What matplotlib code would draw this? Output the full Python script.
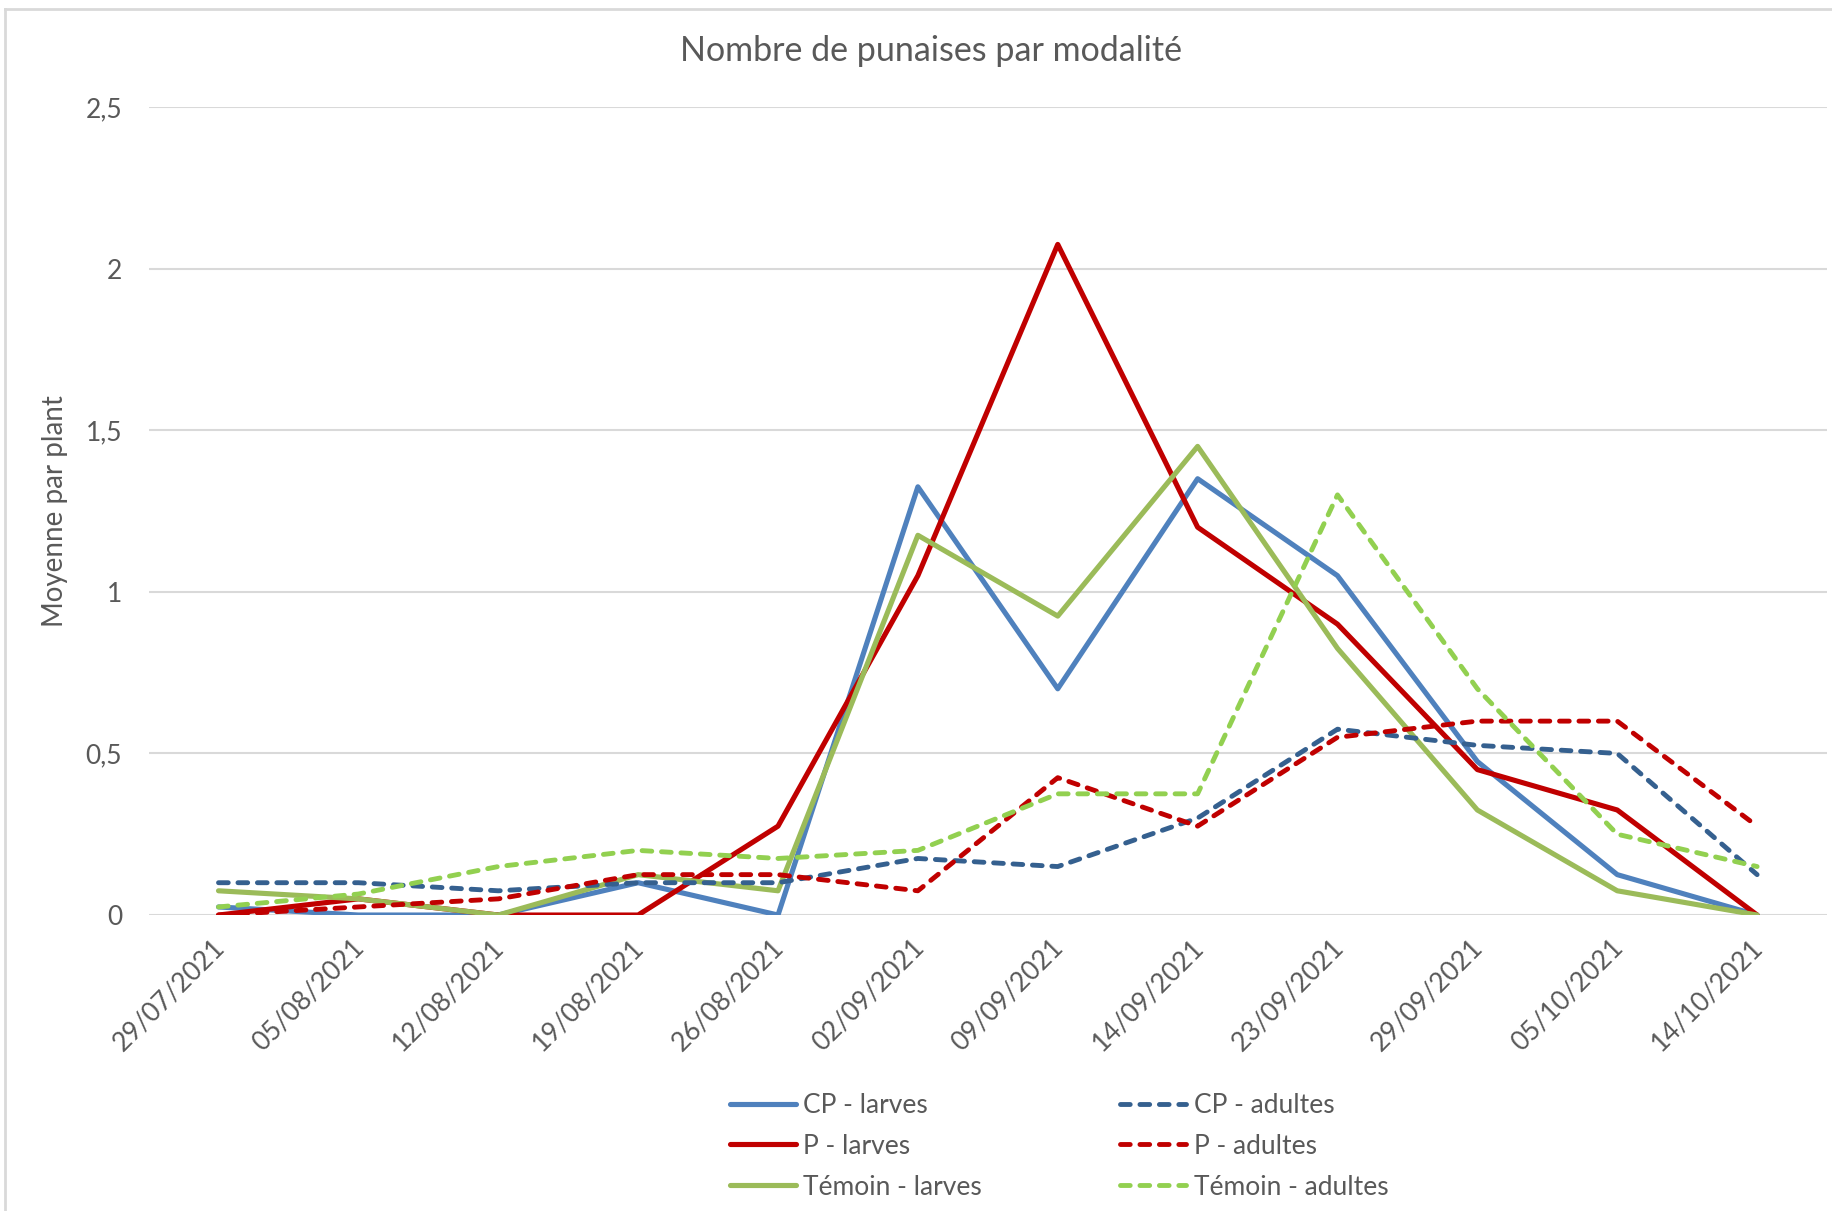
import numpy as np
import matplotlib
matplotlib.use('Agg')
import matplotlib.pyplot as plt
from matplotlib.lines import Line2D
from matplotlib.transforms import ScaledTranslation

plt.rcParams['font.family'] = ['Lato', 'DejaVu Sans']

dates = ['29/07/2021', '05/08/2021', '12/08/2021', '19/08/2021', '26/08/2021', '02/09/2021',
         '09/09/2021', '14/09/2021', '23/09/2021', '29/09/2021', '05/10/2021', '14/10/2021']

cp_larves = [0.025, 0, 0, 0.1, 0, 1.325, 0.7, 1.35, 1.05, 0.475, 0.125, 0]
p_larves = [0, 0.05, 0, 0, 0.275, 1.05, 2.075, 1.2, 0.9, 0.45, 0.325, 0]
temoin_larves = [0.075, 0.05, 0, 0.125, 0.075, 1.175, 0.925, 1.45, 0.825, 0.325, 0.075, 0]
cp_adultes = [0.1, 0.1, 0.075, 0.1, 0.1, 0.175, 0.15, 0.3, 0.575, 0.525, 0.5, 0.125]
p_adultes = [0, 0.025, 0.05, 0.125, 0.125, 0.075, 0.425, 0.275, 0.55, 0.6, 0.6, 0.275]
temoin_adultes = [0.025, 0.065, 0.15, 0.2, 0.175, 0.2, 0.375, 0.375, 1.3, 0.7, 0.25, 0.15]

TXT = '#595959'
GRID = '#D9D9D9'

fig = plt.figure(figsize=(18.32, 12.11), dpi=100)
ax = fig.add_axes([0.0811, 0.2444, 0.9162, 0.6672])

x = np.arange(len(dates))
series = [
    ('CP - larves', cp_larves, '#4F81BD', '-'),
    ('P - larves', p_larves, '#C00000', '-'),
    ('Témoin - larves', temoin_larves, '#9BBB59', '-'),
    ('CP - adultes', cp_adultes, '#35608F', '--'),
    ('P - adultes', p_adultes, '#C00000', '--'),
    ('Témoin - adultes', temoin_adultes, '#92D050', '--'),
]
handles = []
for label, vals, col, ls in series:
    if ls == '-':
        h, = ax.plot(x, vals, color=col, lw=3.7, label=label, solid_capstyle='round')
    else:
        h, = ax.plot(x, vals, color=col, lw=3.5, label=label, dashes=(2, 2),
                     dash_capstyle='round')
    handles.append(h)

ax.set_xlim(-0.5, len(dates) - 0.5)
ax.set_ylim(0, 2.5)
ax.set_yticks([0, 0.5, 1, 1.5, 2, 2.5])
ax.set_yticklabels(['0', '0,5', '1', '1,5', '2', '2,5'])
ax.yaxis.grid(True, color=GRID, lw=1.5)
ax.set_axisbelow(True)
for s in ax.spines.values():
    s.set_visible(False)
ax.tick_params(axis='both', length=0, colors=TXT, labelsize=19)
ax.tick_params(axis='y', pad=19)
ax.set_xticks(x)
ax.set_xticklabels(dates, rotation=45, ha='right', va='top', rotation_mode='anchor')
ax.tick_params(axis='x', pad=14)
shift = ScaledTranslation(-7 / 100, 0, fig.dpi_scale_trans)
for lbl in ax.get_xticklabels():
    lbl.set_transform(lbl.get_transform() + shift)

ax.set_ylabel('Moyenne par plant', color=TXT, fontsize=20, labelpad=13)
fig.text(0.508, 0.958, 'Nombre de punaises par modalité', ha='center', va='center',
         color=TXT, fontsize=24.5)

leg = fig.legend(handles, [s[0] for s in series],
                 ncol=2, loc='center', bbox_to_anchor=(0.578, 0.0535), frameon=False,
                 fontsize=19, labelcolor=TXT, handlelength=2.5, handletextpad=0.27,
                 columnspacing=5.27, labelspacing=0.6)

# chart border
fig.add_artist(Line2D([5 / 1832, 1], [1 - 9 / 1211, 1 - 9 / 1211], color=GRID, lw=2,
                      transform=fig.transFigure))
fig.add_artist(Line2D([5 / 1832, 5 / 1832], [0, 1 - 9 / 1211], color=GRID, lw=2,
                      transform=fig.transFigure))

fig.savefig('out.png', dpi=100, facecolor='white')
